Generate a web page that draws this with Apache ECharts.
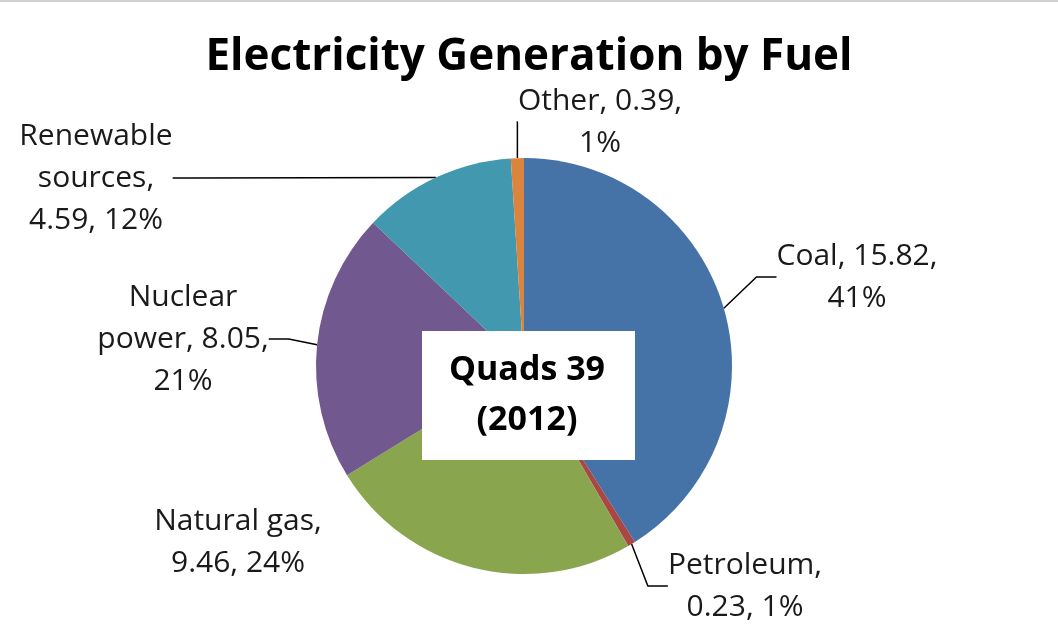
<!DOCTYPE html>
<html>
<head>
<meta charset="utf-8">
<title>Electricity Generation by Fuel</title>
<script src="https://cdn.jsdelivr.net/npm/echarts@6/dist/echarts.min.js"></script>
<style>
    html, body { margin: 0; padding: 0; background: #fff; }
    #main { width: 1058px; height: 640px; }
</style>
</head>
<body>
<div id="main"></div>
<script>
// fuels, clockwise from 12 o'clock
var fuels = ["Coal", "Petroleum", "Natural gas", "Nuclear power", "Renewable sources", "Other"]
var quads = [15.82, 0.23, 9.46, 8.05, 4.59, 0.39]
var shares = [41, 1, 24, 21, 12, 1]
var colors = ["#4572a7", "#aa4643", "#89a54e", "#71588f", "#4198af", "#db843d"]

// how each label wraps, like the original
var labelText = [
    "Coal, 15.82,\n41%",
    "Petroleum,\n0.23, 1%",
    "Natural gas,\n9.46, 24%",
    "Nuclear\npower, 8.05,\n21%",
    "Renewable\nsources,\n4.59, 12%",
    "Other, 0.39,\n1%"
]

// where the label blocks sit (centre of the block)
var labelPos = [
    [857, 277],
    [745, 586],
    [238, 542],
    [183, 339],
    [96, 178],
    [600, 122]
]

var totalText = "Quads 39\n(2012)"

var FONT = "'Open Sans', Lato, sans-serif"

var pieData = fuels.map(function (f, i) {
    var item = { name: f, value: quads[i], itemStyle: { color: colors[i] } }
    if (f === "Natural gas") {
        item.labelLine = { show: false }
    }
    return item
})

var myChart = echarts.init(document.getElementById('main'))

var option = {
    backgroundColor: '#ffffff',
    animation: false,
    title: {
        text: 'Electricity Generation by Fuel',
        left: 'center',
        top: 30,
        textStyle: {
            fontFamily: FONT,
            fontWeight: 'bold',
            fontSize: 44,
            color: '#000'
        }
    },
    graphic: [
        // thin grey rule along the top edge
        { type: 'rect', left: 0, top: 0, shape: { width: 1058, height: 2 }, style: { fill: '#d0d0d0' } },
        {
            type: 'rect',
            left: 422,
            top: 331,
            z: 100,
            shape: { width: 213, height: 129 },
            style: { fill: '#fff' }
        },
        {
            type: 'text',
            x: 527,
            y: 395,
            z: 101,
            style: {
                text: totalText,
                fontFamily: FONT,
                fontWeight: 'bold',
                fontSize: 34,
                lineHeight: 50,
                fill: '#000',
                align: 'center',
                verticalAlign: 'middle'
            }
        }
    ],
    series: [
        {
            type: 'pie',
            center: [524, 366],
            radius: 208,
            startAngle: 90,
            clockwise: true,
            data: pieData,
            itemStyle: { borderWidth: 0 },
            label: {
                show: true,
                position: 'outside',
                formatter: function (p) { return labelText[p.dataIndex] },
                fontFamily: FONT,
                fontSize: 30,
                lineHeight: 42,
                color: '#1a1a1a',
                align: 'center'
            },
            labelLine: {
                show: true,
                length: 20,
                length2: 20,
                lineStyle: { color: '#000', width: 1.5 }
            },
            labelLayout: function (params) {
                var p = labelPos[params.dataIndex]
                return {
                    x: p[0],
                    y: p[1],
                    align: 'center',
                    verticalAlign: 'middle'
                }
            },
            emphasis: { disabled: true }
        }
    ]
}

myChart.setOption(option)
</script>
</body>
</html>
